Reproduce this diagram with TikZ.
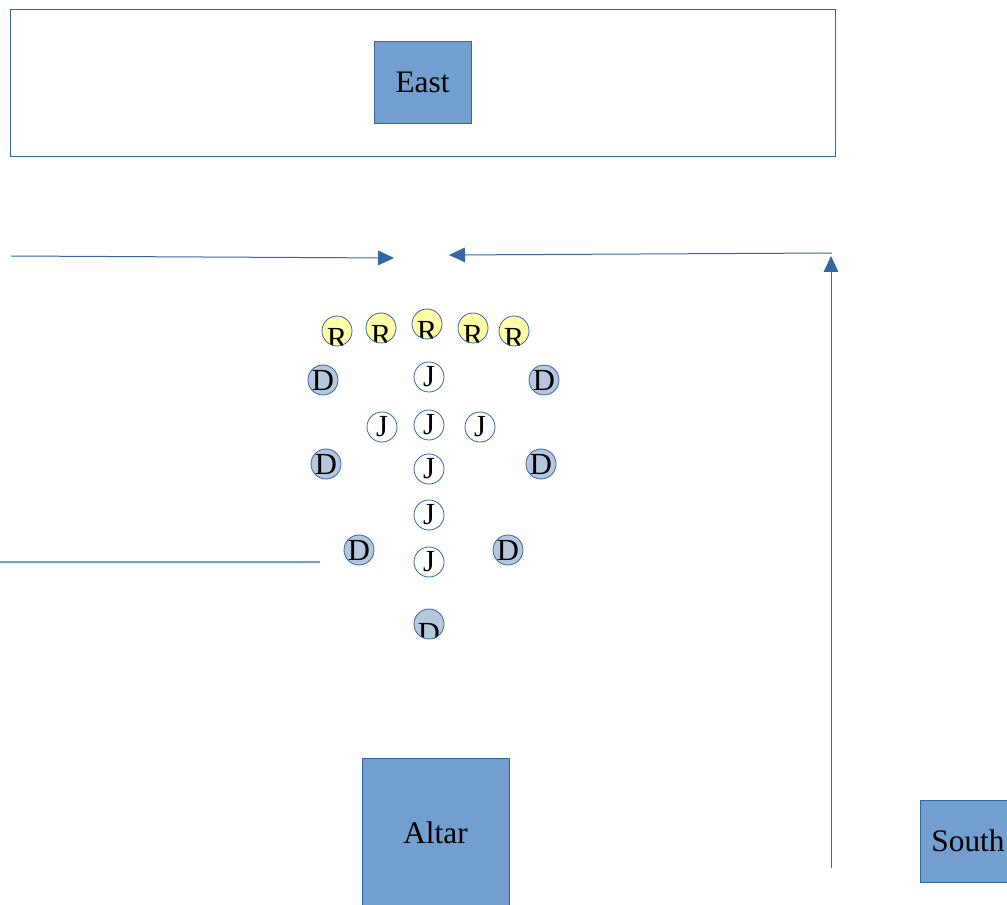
\documentclass[tikz,border=0pt]{standalone}
\usepackage{fontspec}
\setmainfont{Liberation Serif}
\usetikzlibrary{arrows.meta}

\definecolor{edgeblue}{HTML}{3465A4}
\definecolor{boxfill}{HTML}{729FCF}
\definecolor{dfill}{HTML}{B4C7DC}
\definecolor{rfill}{HTML}{FFFFA6}

\begin{document}
\begin{tikzpicture}[
        x=0.75pt, y=-0.75pt,
        seat/.style={circle, draw=edgeblue, line width=0.6pt, minimum size=22.5pt, inner sep=0pt, font=\fontsize{23}{23}\selectfont},
        jseat/.style={seat, fill=white},
        dseat/.style={seat, fill=dfill},
        rseat/.style={seat, fill=rfill},
        cutlabel/.style 2 args={path picture={\node[anchor=base, inner sep=0pt, font=\fontsize{23}{23}\selectfont] at ([yshift=-#2]path picture bounding box.center) {#1};}},
        bluebox/.style={rectangle, draw=edgeblue, fill=boxfill, line width=0.6pt, inner sep=0pt, font=\fontsize{23.5}{23.5}\selectfont},
        flow/.style={draw=edgeblue, line width=0.75pt, -{Triangle[length=12pt, width=11pt]}}
    ]
        \useasboundingbox (0,0) rectangle (1007,905);

        % Walls and boxes
        \node[draw=edgeblue, line width=0.6pt, minimum width=618.75pt, minimum height=110.25pt, inner sep=0pt] (sanctuary) at (422.5,82.5) {};
        \node[bluebox, minimum width=72.75pt, minimum height=61.5pt] (east) at (422.5,82) {East};
        \node[bluebox, minimum width=110.25pt, minimum height=112.5pt] (altar) at (435.5,833) {Altar};
        \node[bluebox, minimum width=72pt, minimum height=61.5pt] (south) at (968,841) {South};

        % Row of R seats
        \node[rseat, cutlabel={R}{13pt}] (r1) at (337,331) {};
        \node[rseat, cutlabel={R}{13pt}] (r2) at (381,328) {};
        \node[rseat, cutlabel={R}{13pt}] (r3) at (427,324) {};
        \node[rseat, cutlabel={R}{13pt}] (r4) at (473,328) {};
        \node[rseat, cutlabel={R}{13pt}] (r5) at (514,331) {};

        % D seats
        \node[dseat] (d1) at (323,380) {D};
        \node[dseat] (d2) at (544,380) {D};
        \node[dseat] (d3) at (326,464) {D};
        \node[dseat] (d4) at (541,464) {D};
        \node[dseat] (d5) at (359,550) {D};
        \node[dseat] (d6) at (508,550) {D};
        \node[dseat, cutlabel={D}{14.5pt}] (d7) at (429,624) {};

        % J seats
        \node[jseat] (j1) at (429,377) {J};
        \node[jseat] (j2) at (382,427) {J};
        \node[jseat] (j3) at (429,425) {J};
        \node[jseat] (j4) at (480,427) {J};
        \node[jseat] (j5) at (429,469) {J};
        \node[jseat] (j6) at (429,515) {J};
        \node[jseat] (j7) at (429,562) {J};

        % Paths
        \coordinate (westin) at (11,256);
        \coordinate (westend) at (394,258);
        \coordinate (corner) at (832,253);
        \coordinate (eastend) at (449,255);
        \coordinate (southin) at (831,868);
        \coordinate (southend) at (831,256);
        \coordinate (sidein) at (0,562);
        \coordinate (sideend) at (320,562);

        \draw[flow] (westin) -- (westend);
        \draw[flow] (corner) -- (eastend);
        \draw[flow] (southin) -- (southend);
        \draw[boxfill, line width=1pt] (sidein) -- (sideend);
    \end{tikzpicture}
\end{document}
